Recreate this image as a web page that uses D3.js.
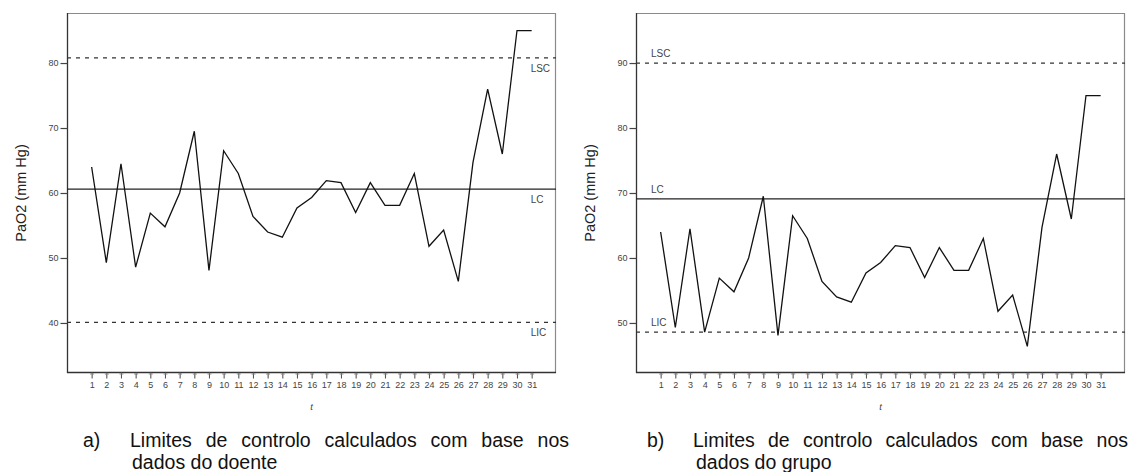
<!DOCTYPE html>
<html>
<head>
<meta charset="utf-8">
<script src="https://cdn.jsdelivr.net/npm/d3@7"></script>
<style>
  html, body { margin: 0; padding: 0; background: #fff; }
  svg { display: block; font-family: "Liberation Sans", Arial, sans-serif; }
</style>
</head>
<body>
<svg id="chart" width="1135" height="472"></svg>
<script>
// Observation index (t) and PaO2 readings (mm Hg)
const tValues = d3.range(1, 32);
const pao2 = [64.0, 49.3, 64.5, 48.6, 56.9, 54.8, 60.0, 69.5, 48.1, 66.5,
              63.0, 56.4, 54.0, 53.2, 57.7, 59.3, 61.9, 61.6, 57.0, 61.6,
              58.1, 58.1, 63.0, 51.8, 54.3, 46.4, 64.7, 76.0, 66.0, 85.0, 85.0];

// Control limits: patient-based (a) and group-based (b)
const limitsPatient = { LSC: 80.8, LC: 60.6, LIC: 40.1 };
const limitsGroup   = { LSC: 90.0, LC: 69.1, LIC: 48.6 };

// Y tick labels of each panel
const yTicksPatient = [40, 50, 60, 70, 80];
const yTicksGroup   = [50, 60, 70, 80, 90];

const yLabel = "PaO2 (mm Hg)";
const xLabel = "t";
const captionA = ["a)", "Limites de controlo calculados com base nos", "dados do doente"];
const captionB = ["b)", "Limites de controlo calculados com base nos", "dados do grupo"];

const svg = d3.select("#chart");

function drawPanel(opt) {
  const { left, right, top, bottom, yDomain, yTicks, limits, labelSide, caption } = opt;
  const g = svg.append("g");

  const x = d3.scaleLinear().domain([-0.68, 32.66]).range([left, right]);
  const y = d3.scaleLinear().domain(yDomain).range([bottom, top]);

  // frame: light top/right, dark left/bottom axes
  g.append("line").attr("x1", left).attr("x2", right).attr("y1", top + 0.5).attr("y2", top + 0.5)
    .attr("stroke", "#8a8a8a").attr("stroke-width", 1.2);
  g.append("line").attr("x1", right - 0.5).attr("x2", right - 0.5).attr("y1", top).attr("y2", bottom)
    .attr("stroke", "#8a8a8a").attr("stroke-width", 1.2);

  // y axis
  const yAxis = d3.axisLeft(y).tickValues(yTicks).tickSize(7).tickPadding(2).tickFormat(d3.format("d"));
  const ya = g.append("g").attr("transform", `translate(${left + 0.5},0)`).call(yAxis);
  ya.select(".domain").attr("stroke", "#333").attr("stroke-width", 1.3).attr("d", `M0,${top}V${bottom}`);
  ya.selectAll(".tick line").attr("stroke", "#444").attr("stroke-width", 1.2);
  ya.selectAll(".tick text").attr("fill", "#444").style("font-size", "9px")
    .style("font-family", "'Liberation Sans', Arial, sans-serif");

  // x axis
  const xAxis = d3.axisBottom(x).tickValues(tValues).tickSize(6).tickPadding(3).tickFormat(d3.format("d"));
  const xa = g.append("g").attr("transform", `translate(0,${bottom - 0.5})`).call(xAxis);
  xa.select(".domain").attr("stroke", "#333").attr("stroke-width", 1.3).attr("d", `M${left},0H${right}`);
  xa.selectAll(".tick line").attr("stroke", "#555").attr("stroke-width", 1.1);
  xa.selectAll(".tick").append("line")
    .attr("x1", -2).attr("x2", 2).attr("y1", 1.5).attr("y2", 1.5)
    .attr("stroke", "#888").attr("stroke-width", 1);
  xa.selectAll(".tick text").attr("fill", "#444").style("font-size", "9px")
    .style("font-family", "'Liberation Sans', Arial, sans-serif");

  // axis titles
  g.append("text")
    .attr("transform", `translate(${left - 45},${(top + bottom) / 2}) rotate(-90)`)
    .attr("text-anchor", "middle").attr("dominant-baseline", "middle")
    .attr("fill", "#222").style("font-size", "14.5px").text(yLabel);
  g.append("text")
    .attr("x", x(16)).attr("y", bottom + 37)
    .attr("text-anchor", "middle").attr("fill", "#444")
    .style("font-size", "9.5px").style("font-style", "italic").text(xLabel);

  // control limit lines
  [["LSC", true], ["LC", false], ["LIC", true]].forEach(([key, dashed]) => {
    const yy = y(limits[key]);
    g.append("line").attr("x1", left).attr("x2", right).attr("y1", yy).attr("y2", yy)
      .attr("stroke", dashed ? "#333" : "#222")
      .attr("stroke-width", dashed ? 1.2 : 1.3)
      .attr("stroke-dasharray", dashed ? "4,5" : null);
    const lab = g.append("text").attr("fill", "#444").style("font-size", "10px").text(key);
    if (labelSide === "below-right") {
      lab.attr("x", x(31.0) - 1).attr("y", yy + 14);
    } else {
      lab.attr("x", left + 15).attr("y", yy - 6);
    }
  });

  // data series
  const line = d3.line().x((d, i) => x(tValues[i])).y(d => y(d));
  g.append("path").datum(pao2)
    .attr("fill", "none").attr("stroke", "#111").attr("stroke-width", 1.3)
    .attr("stroke-linejoin", "miter").attr("d", line);

  // caption, first line justified between its bounds
  const cap = g.append("g").attr("fill", "#111").style("font-size", "19.5px");
  cap.append("text").attr("x", caption.markX).attr("y", caption.y1).text(caption.text[0]);
  const words = caption.text[1].split(" ");
  const ws = words.map(w => {
    const t = cap.append("text").attr("y", caption.y1).text(w);
    return { t, w: t.node().getComputedTextLength() };
  });
  const total = d3.sum(ws, d => d.w);
  const gap = (caption.x1end - caption.x1 - total) / (words.length - 1);
  let cx = caption.x1;
  ws.forEach(d => { d.t.attr("x", cx); cx += d.w + gap; });
  cap.append("text").attr("x", caption.x2).attr("y", caption.y2).text(caption.text[2]);
}

drawPanel({
  left: 67, right: 556, top: 13, bottom: 373,
  yDomain: [32.3, 87.7], yTicks: yTicksPatient, limits: limitsPatient,
  labelSide: "below-right",
  caption: { text: captionA, markX: 83, x1: 130, x1end: 569, x2: 132, y1: 447, y2: 469 }
});

drawPanel({
  left: 636, right: 1125, top: 13, bottom: 373,
  yDomain: [42.3, 97.7], yTicks: yTicksGroup, limits: limitsGroup,
  labelSide: "above-left",
  caption: { text: captionB, markX: 647, x1: 693, x1end: 1128, x2: 696, y1: 447, y2: 469 }
});
</script>
</body>
</html>
